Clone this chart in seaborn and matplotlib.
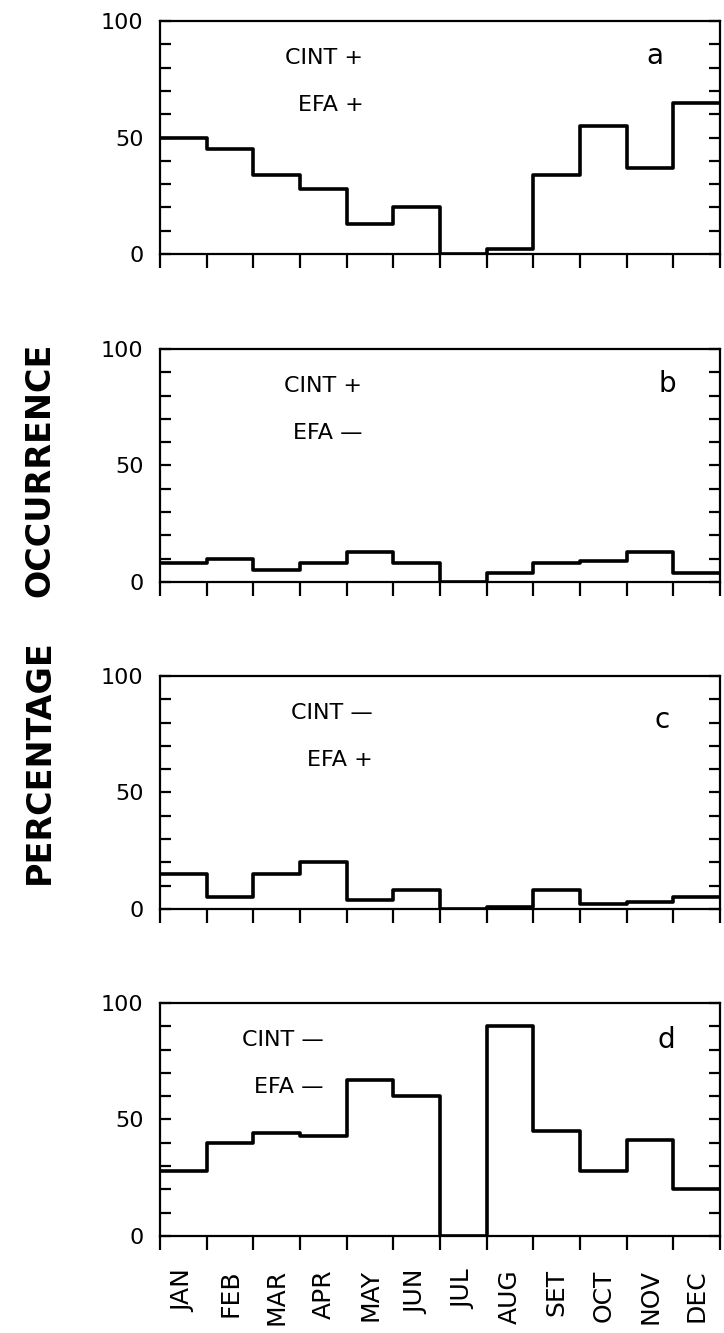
import numpy as np
import pandas as pd
import matplotlib
matplotlib.use('Agg')
import matplotlib.pyplot as plt
import seaborn as sns

months = ['JAN', 'FEB', 'MAR', 'APR', 'MAY', 'JUN',
          'JUL', 'AUG', 'SET', 'OCT', 'NOV', 'DEC']

# percentage occurrence per month, one list per CINT / EFA sign combination
pct_a = [50, 45, 34, 28, 13, 20, 0, 2, 34, 55, 37, 65]   # CINT + EFA +
pct_b = [8, 10, 5, 8, 13, 8, 0, 4, 8, 9, 13, 4]          # CINT + EFA -
pct_c = [15, 5, 15, 20, 4, 8, 0, 1, 8, 2, 3, 5]          # CINT - EFA +
pct_d = [28, 40, 44, 43, 67, 60, 0, 90, 45, 28, 41, 20]  # CINT - EFA -

panel_letters = ['a', 'b', 'c', 'd']
cint_signs = ['+', '+', '—', '—']
efa_signs = ['+', '—', '+', '—']

sns.set_style('ticks')
plt.rcParams['font.family'] = ['DejaVu Sans']
plt.rcParams['text.color'] = 'black'
plt.rcParams['xtick.color'] = 'black'
plt.rcParams['ytick.color'] = 'black'

fig = plt.figure(figsize=(7.24, 13.33), dpi=100)

bottoms = [0.8094, 0.5634, 0.3181, 0.0728]
text_x = [4.36, 4.33, 4.56, 3.5]
letter_pos = [(10.6, 85), (10.87, 85), (10.76, 81), (10.85, 84)]

for i, vals in enumerate([pct_a, pct_b, pct_c, pct_d]):
    ax = fig.add_axes([0.221, bottoms[i], 0.7735, 0.1748])
    df = pd.DataFrame({'month': np.arange(12) + 0.5, 'pct': vals})
    sns.histplot(data=df, x='month', weights='pct', bins=12, binrange=(0, 12),
                 element='step', fill=False, color='black', linewidth=2.6, ax=ax)

    ax.set_xlim(0, 12)
    ax.set_ylim(0, 100)
    ax.set_xlabel('')
    ax.set_ylabel('')
    for s in ax.spines.values():
        s.set_visible(True)
        s.set_linewidth(1.6)
        s.set_color('black')

    ax.set_xticks(np.arange(13))
    ax.set_xticklabels([])
    ax.set_yticks([0, 50, 100])
    ax.set_yticks(np.arange(0, 101, 10), minor=True)
    ax.tick_params(axis='x', which='major', direction='out', length=10, width=1.6)
    ax.tick_params(axis='y', which='both', direction='in', length=8, width=1.6,
                   left=True, right=True, labelsize=16, pad=12)

    if i == 3:
        ax.set_xticks(np.arange(12) + 0.5, minor=True)
        ax.set_xticklabels(months, minor=True, rotation=90, fontsize=18)
        ax.tick_params(axis='x', which='minor', length=0, pad=24)

    ax.text(text_x[i], 84, 'CINT ' + cint_signs[i], ha='right', va='center', fontsize=16)
    ax.text(text_x[i], 64, 'EFA ' + efa_signs[i], ha='right', va='center', fontsize=16)
    ax.text(letter_pos[i][0], letter_pos[i][1], panel_letters[i],
            ha='center', va='center', fontsize=20)

fig.text(0.055, 1 - 470 / 1333, 'OCCURRENCE', rotation=90, ha='center', va='center',
         fontsize=24, fontweight='bold')
fig.text(0.055, 1 - 762 / 1333, 'PERCENTAGE', rotation=90, ha='center', va='center',
         fontsize=24, fontweight='bold')

fig.savefig('out.png', dpi=100)
